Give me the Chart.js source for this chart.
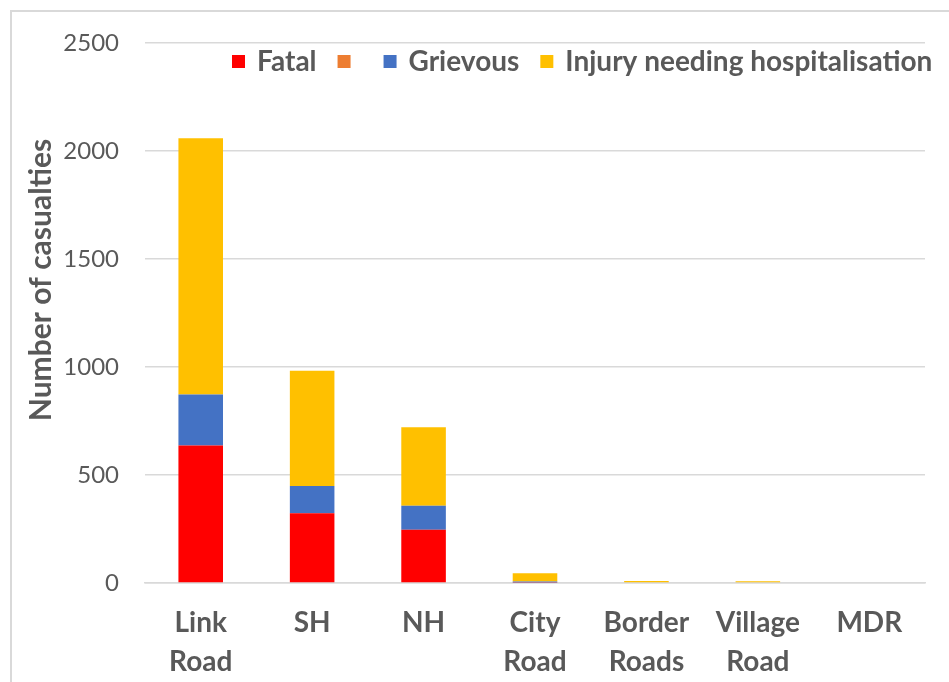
<!DOCTYPE html>
<html>
<head>
<meta charset="utf-8">
<script src="https://cdn.jsdelivr.net/npm/chart.js@4.4.1/dist/chart.umd.min.js"></script>
<style>
  html, body { margin: 0; padding: 0; background: #fff; }
  #wrap { width: 949px; height: 682px; position: relative; }
</style>
</head>
<body>
<div id="wrap"><canvas id="roadChart" width="949" height="682"></canvas></div>
<script>
const roadTypes = [['Link', 'Road'], 'SH', 'NH', ['City', 'Road'], ['Border', 'Roads'], ['Village', 'Road'], 'MDR'];
const fatal = [636, 323, 247, 2, 0, 0, 0];
const blank = [0, 0, 0, 0, 0, 0, 0];
const grievous = [237, 126, 111, 5, 0, 0, 0];
const hospitalised = [1186, 534, 363, 38, 9, 8, 0];
const yTicks = [0, 500, 1000, 1500, 2000, 2500];
const yTitle = 'Number of casualties';

const seriesNames = ['Fatal', '', 'Grievous', 'Injury needing hospitalisation'];
const seriesColors = ['#ff0000', '#ed7d31', '#4472c4', '#ffc000'];
const grey = '#595959';
const fontName = 'Lato, Calibri, sans-serif';

// frame, axis title and legend drawn by hand like the original
const extras = {
  id: 'extras',
  afterDraw(chart) {
    const ctx = chart.ctx;
    ctx.save();
    ctx.strokeStyle = '#d9d9d9';
    ctx.lineWidth = 2;
    ctx.strokeRect(11, 11, 1000, 1000);

    // y title
    ctx.save();
    ctx.translate(41, 280);
    ctx.rotate(-Math.PI / 2);
    ctx.font = 'bold 30px ' + fontName;
    ctx.fillStyle = grey;
    ctx.textAlign = 'center';
    ctx.textBaseline = 'middle';
    ctx.fillText(yTitle, 0, 0);
    ctx.restore();

    // legend
    ctx.font = 'bold 28px ' + fontName;
    ctx.textBaseline = 'middle';
    let x = 232;
    const y = 62;
    chart.data.datasets.forEach((ds) => {
      ctx.fillStyle = ds.backgroundColor;
      ctx.fillRect(x, y - 7, 13, 13);
      x += 25;
      ctx.fillStyle = grey;
      ctx.fillText(ds.label, x, y);
      x += ctx.measureText(ds.label).width + 21;
    });
    ctx.restore();
  }
};

const ctx = document.getElementById('roadChart').getContext('2d');
new Chart(ctx, {
  type: 'bar',
  data: {
    labels: roadTypes,
    datasets: seriesNames.map((name, i) => ({
      label: name,
      data: [fatal, blank, grievous, hospitalised][i],
      backgroundColor: seriesColors[i],
      barPercentage: 0.8,
      categoryPercentage: 0.5
    }))
  },
  options: {
    responsive: false,
    animation: false,
    layout: { padding: { top: 43, right: 24, left: 0, bottom: 0 } },
    plugins: {
      legend: { display: false },
      tooltip: { enabled: false }
    },
    scales: {
      x: {
        stacked: true,
        grid: { display: false },
        border: { color: '#d9d9d9', width: 1.5 },
        ticks: {
          color: grey,
          font: { family: fontName, size: 28, weight: 'bold', lineHeight: 1.4 },
          maxRotation: 0,
          autoSkip: false,
          padding: 12
        },
        afterFit(scale) { scale.height = 99; }
      },
      y: {
        stacked: true,
        min: 0,
        max: 2500,
        grid: { color: '#d9d9d9', lineWidth: 1.5, drawTicks: false },
        border: { display: false },
        afterBuildTicks(scale) { scale.ticks = yTicks.map(v => ({ value: v })); },
        ticks: {
          color: grey,
          font: { family: fontName, size: 24 },
          padding: 26,
          callback: (v) => String(v)
        },
        afterFit(scale) { scale.width = 145; }
      }
    }
  },
  plugins: [extras]
});
</script>
</body>
</html>
